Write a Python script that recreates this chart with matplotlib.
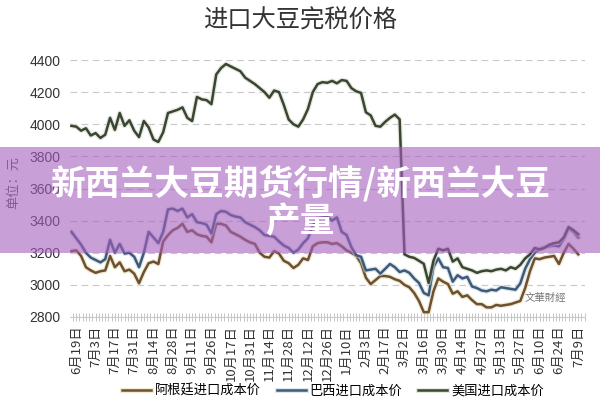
import matplotlib
matplotlib.use("Agg")
import matplotlib.pyplot as plt
from matplotlib.patches import Rectangle
from matplotlib.ticker import MultipleLocator, FixedLocator
import matplotlib.patheffects as pe
import numpy as np

plt.rcParams['font.family'] = ['Noto Sans CJK SC', 'DejaVu Sans']

title = "进口大豆完税价格"
banner_line1 = "新西兰大豆期货行情/新西兰大豆"
banner_line2 = "产量"
ylabel = "单位：元"

tick_labels = ["6月19日", "7月3日", "7月17日", "7月31日", "8月14日", "8月28日", "9月11日",
               "9月26日", "10月17日", "10月31日", "11月14日", "11月28日", "12月12日",
               "12月26日", "1月10日", "2月3日", "2月17日", "3月2日", "3月16日", "3月30日",
               "4月14日", "4月27日", "5月13日", "5月27日", "6月10日", "6月24日", "7月9日"]

series_names = ["阿根廷进口成本价", "巴西进口成本价", "美国进口成本价"]

usa = [3990, 3985, 3960, 3975, 3930, 3945, 3915, 3935, 4040, 3965, 4070, 3990, 4025, 3960,
       3920, 4020, 3980, 3905, 3890, 3950, 4070, 4080, 4090, 4105, 4040, 4020, 4170, 4155,
       4150, 4125, 4310, 4350, 4375, 4360, 4345, 4330, 4290, 4270, 4250, 4225, 4200, 4165,
       4210, 4200, 4120, 4030, 4000, 3985, 4030, 4095, 4200, 4250, 4262, 4258, 4270, 4255,
       4275, 4270, 4225, 4205, 4195, 4075, 4055, 3990, 3985, 4015, 4040, 4060, 4030, 3190,
       3175, 3168, 3150, 3131, 3012, 3150, 3225, 3215, 3225, 3145, 3165, 3110, 3100, 3090,
       3075, 3085, 3090, 3085, 3095, 3100, 3090, 3110, 3100, 3125, 3165, 3190, 3230, 3220,
       3230, 3250, 3260, 3265, 3295, 3360, 3340, 3315]

brazil = [3330, 3290, 3250, 3200, 3170, 3155, 3140, 3160, 3280, 3200, 3255, 3195, 3200, 3175,
          3110, 3200, 3330, 3295, 3260, 3330, 3470, 3475, 3460, 3475, 3420, 3440, 3390, 3385,
          3375, 3320, 3440, 3460, 3455, 3435, 3425, 3420, 3390, 3375, 3360, 3340, 3310, 3305,
          3300, 3270, 3245, 3230, 3200, 3220, 3260, 3290, 3370, 3415, 3420, 3425, 3400, 3420,
          3330, 3310, 3235, 3185, 3175, 3090, 3095, 3100, 3070, 3100, 3130, 3110, 3080, 3090,
          3075, 3040, 3012, 2950, 2935, 3110, 3165, 3110, 3105, 3020, 3060, 3040, 3050, 2990,
          2980, 2965, 2960, 2970, 2965, 2985, 2980, 2975, 2970, 3010, 3100, 3160, 3200, 3225,
          3235, 3240, 3245, 3240, 3285, 3350, 3330, 3295]

argentina = [3210, 3215, 3180, 3110, 3090, 3075, 3085, 3090, 3180, 3110, 3140, 3085, 3095, 3070,
             3010, 3080, 3135, 3145, 3130, 3270, 3310, 3340, 3355, 3380, 3330, 3340, 3315, 3305,
             3300, 3265, 3380, 3380, 3370, 3330, 3315, 3300, 3280, 3265, 3255, 3200, 3175, 3170,
             3210, 3195, 3150, 3135, 3105, 3125, 3165, 3155, 3240, 3260, 3265, 3265, 3255, 3260,
             3240, 3215, 3200, 3180, 3135, 3045, 3005, 3030, 3055, 3055, 3050, 3035, 3025, 3000,
             2985, 2950, 2900, 2830, 2830, 2960, 3040, 3020, 3005, 2945, 2960, 2925, 2935, 2905,
             2880, 2880, 2860, 2860, 2875, 2870, 2875, 2880, 2890, 2900, 2980, 3085, 3165, 3160,
             3170, 3175, 3180, 3130, 3200, 3255, 3225, 3190]

yticks = [2800, 3000, 3200, 3400, 3600, 3800, 4000, 4200, 4400]

colors = ["#6b5034", "#3d5a78", "#3a4532"]
halo = ["#e9dcb0", "#c9d6e2", "#d4dccb"]

W, H = 600, 400
fig = plt.figure(figsize=(6, 4), dpi=100)
fig.patch.set_facecolor("white")
ax = fig.add_axes([70 / W, 1 - 317 / H, 515 / W, 257 / H])

x = np.arange(-1, len(usa) - 1)
for vals, c, h, name in zip([argentina, brazil, usa], colors, halo, series_names):
    ax.plot(x, vals, color=c, lw=1.8, label=name, solid_joinstyle="round",
            path_effects=[pe.Stroke(linewidth=3.6, foreground=h, alpha=0.6), pe.Normal()])

ax.set_ylim(2800, 4400)
ax.set_xlim(-1.3, 105.4)
ax.set_yticks(yticks)
ax.set_yticklabels([str(v) for v in yticks], fontsize=10, color="#333333",
                   family=["Liberation Sans", "DejaVu Sans"])
ax.tick_params(axis="y", length=0, pad=7)
ax.yaxis.grid(True, linestyle=(0, (6, 4)), color="#c8c8c8", lw=0.8)
ax.set_axisbelow(True)

ax.xaxis.set_major_locator(FixedLocator(np.arange(0, 105, 4)))
ax.set_xticklabels(tick_labels, rotation=90, fontsize=9.5, color="#333333")
ax.xaxis.set_minor_locator(MultipleLocator(2 / 3))
ax.tick_params(axis="x", which="both", direction="inout", length=6, width=0.6,
               color="#bbbbbb", pad=3)
for s in ["top", "right", "left"]:
    ax.spines[s].set_visible(False)
ax.spines["bottom"].set_color("#cccccc")

fig.text(300 / W, 1 - 21 / H, title, ha="center", va="center", fontsize=17.5, color="#333333")
fig.text(14 / W, 1 - 182 / H, ylabel, ha="center", va="center", rotation=90,
         fontsize=9.5, color="#555555")
fig.text(545 / W, 1 - 298 / H, "文華財經", ha="center", va="center", fontsize=7.5,
         color="#777777")

fig.legend(loc="center", bbox_to_anchor=(333 / W, 1 - 391 / H), ncol=3, frameon=False,
           fontsize=9.5, handlelength=2.2, columnspacing=1.2, handletextpad=0.3)

# purple banner overlay
fig.patches.append(Rectangle((0, 1 - 253 / H), 1, 106 / H, transform=fig.transFigure,
                             facecolor="#a65fbf", alpha=0.6, edgecolor="none", zorder=10))
fig.text(300 / W, 1 - 183 / H, banner_line1, ha="center", va="center", fontsize=25,
         fontweight="bold", color="white", zorder=11)
fig.text(300 / W, 1 - 222 / H, banner_line2, ha="center", va="center", fontsize=25,
         fontweight="bold", color="white", zorder=11)

fig.savefig("out.png", dpi=100)
